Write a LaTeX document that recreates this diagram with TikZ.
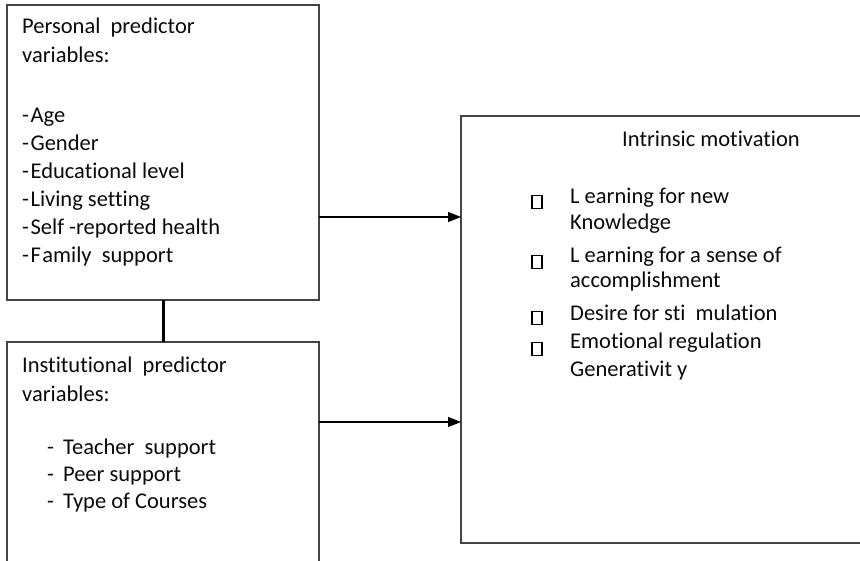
\documentclass[tikz,border=0pt]{standalone}
\usepackage{fontspec}
\setmainfont{Carlito}[Ligatures={NoCommon}]
\usetikzlibrary{arrows.meta}
\definecolor{boxgray}{HTML}{444444}
\definecolor{ink}{HTML}{0A0A0A}
\begin{document}
\begin{tikzpicture}[x=1pt,y=-1pt,
  box/.style={draw=boxgray, line width=1.7pt, anchor=north west, inner sep=0pt, outer sep=0pt},
  txt/.style={anchor=base west, inner sep=0pt, font=\fontsize{22.5}{26}\selectfont, text=ink},
  bul/.style={draw=black, line width=1.6pt, minimum width=10pt, minimum height=13pt, inner sep=0pt, outer sep=0pt},
  arr/.style={-{Triangle[length=13pt,width=10pt]}, line width=1.4pt, draw=black},
  link/.style={line width=3pt, draw=black}]
\useasboundingbox (0,0) rectangle (860,560);
\clip (0,0) rectangle (860,560);
% boxes
\node[box, minimum width=312pt, minimum height=295pt] (pers) at (7,5) {};
\node[box, minimum width=312pt, minimum height=260pt] (inst) at (7,342) {};
\node[box, minimum width=430pt, minimum height=427pt] (intr) at (461,116) {};
% connectors
\draw[link] (pers.south) -- (inst.north);
\draw[arr] (pers.east |- 0,217) -- (intr.west |- 0,217);
\draw[arr] (inst.east |- 0,422) -- (intr.west |- 0,422);
% personal texts
\node[txt] (p1) at (22,33) {Personal\ \ predictor};
\node[txt] (p2) at (22,62) {variables:};
\foreach \t [count=\i] in {{Age},{Gender},{Educational level},{Living setting},{Self -reported health},{F\kern1.5pt amily\ \ support}}
  \node[txt] (pl\i) at (22,94+28*\i) {-\kern1.5pt\t};
% institutional texts
\node[txt] (i1) at (22,372) {Institutional\ \ predictor};
\node[txt] (i2) at (22,401) {variables:};
\foreach \t [count=\i] in {{Teacher\ \ support},{Peer support},{Type of Courses}}
  \node[txt] (il\i) at (47,427+27*\i) {-\hspace{9pt}\t};
% intrinsic texts
\node[txt, anchor=base] (c0) at (711,146) {Intrinsic motivation};
\node[txt] (c1) at (570,203) {L earning for new};
\node[txt] (c2) at (570,229) {Knowledge};
\node[txt] (c3) at (570,262) {L earning for a sense of};
\node[txt] (c4) at (570,287) {accomplishment};
\node[txt] (c5) at (570,320) {Desire for sti\ \ mulation};
\node[txt] (c6) at (570,348) {Emotional regulation};
\node[txt] (c7) at (570,376) {Generativit y};
% bullets
\node[bul] (b1) at (537,202) {};
\node[bul] (b2) at (537,262) {};
\node[bul] (b3) at (537,318) {};
\node[bul] (b4) at (537,349) {};
\end{tikzpicture}
\end{document}
